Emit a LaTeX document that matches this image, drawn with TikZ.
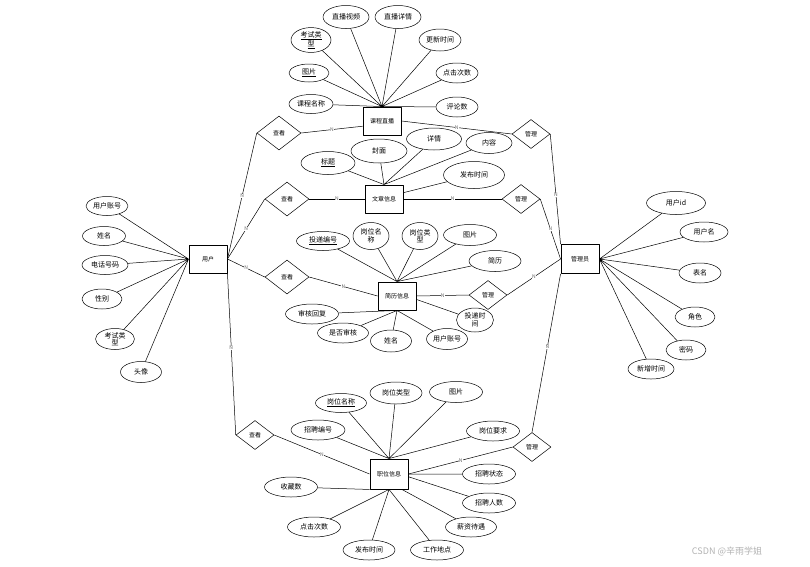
\documentclass[tikz,border=0pt]{standalone}
\usepackage{fontspec}
\setmainfont{Noto Sans CJK SC}
\usetikzlibrary{shapes.geometric}

\begin{document}
\begin{tikzpicture}[x=1pt,y=-1pt,line join=round,line width=0.5pt,
    attr/.style={draw,ellipse,inner sep=0pt,minimum width=46,minimum height=20,font=\fontsize{7}{7}\selectfont},
    attrtwo/.style={attr,align=center,minimum width=38,minimum height=22,font=\fontsize{7}{7.5}\selectfont},
    ent/.style={draw,line width=0.9pt,minimum width=38,minimum height=28,inner sep=0pt,font=\fontsize{6}{6}\selectfont},
    rel/.style={draw,diamond,inner sep=0pt,minimum width=44,minimum height=34,font=\fontsize{6}{6}\selectfont},
    relsm/.style={rel,minimum width=38,minimum height=29},
    nlab/.style={fill=white,inner sep=0.2pt,text=black!60,font=\fontsize{5}{5}\selectfont}]
  \useasboundingbox (0,0) rectangle (810,566);

  \node[ent] (kczb) at (382,121) {课程直播};
  \node[ent] (wzxx) at (384,199) {文章信息};
  \node[ent] (jlxx) at (397,296) {简历信息};
  \node[ent,minimum height=30] (zwxx) at (389,474) {职位信息};
  \node[ent] (yh) at (208,259) {用户};
  \node[ent,minimum height=29] (gly) at (580,259) {管理员};

  \node[rel] (ck1) at (279,133) {查看};
  \node[rel] (ck2) at (287,199) {查看};
  \node[rel] (ck3) at (287,277) {查看};
  \node[relsm] (ck4) at (255,435) {查看};
  \node[relsm] (gl1) at (531,134) {管理};
  \node[relsm] (gl2) at (521,199) {管理};
  \node[relsm] (gl3) at (488,295) {管理};
  \node[relsm] (gl4) at (532,447) {管理};

  % 课程直播
  \node[attr,minimum height=23] (kzbsp) at (346,17) {直播视频};
  \node[attr,minimum height=23] (kzbxq) at (398,17) {直播详情};
  \node[attrtwo,minimum width=40,minimum height=21] (kkslx) at (311,40) {\underline{考试类}\\\underline{型}};
  \node[attr,minimum width=42,minimum height=22] (kgxsj) at (440,40) {更新时间};
  \node[attr,minimum width=40,minimum height=18] (ktp) at (309,73) {\underline{图片}};
  \node[attr,minimum width=42] (kdjcs) at (457,73) {点击次数};
  \node[attr,minimum width=44,minimum height=19] (kkcmc) at (311,104) {课程名称};
  \node[attr,minimum width=42] (kpls) at (457,107) {评论数};

  % 文章信息
  \node[attr,minimum width=54,minimum height=23] (wbt) at (328,163) {\underline{标题}};
  \node[attr,minimum width=56,minimum height=24] (wfm) at (379,151) {封面};
  \node[attr,minimum width=55,minimum height=22] (wxq) at (434,139) {详情};
  \node[attr,minimum width=46,minimum height=21] (wnr) at (489,143) {内容};
  \node[attr,minimum width=61,minimum height=27] (wfbsj) at (474,175) {发布时间};

  % 用户
  \node[attr,minimum width=42,minimum height=19] (yzh) at (107,206) {用户账号};
  \node[attr,minimum width=43,minimum height=19] (yxm) at (104,236) {姓名};
  \node[attr,minimum width=46,minimum height=19] (ydh) at (105,265) {电话号码};
  \node[attr,minimum width=40,minimum height=20] (yxb) at (102,299) {性别};
  \node[attrtwo,minimum width=39,minimum height=21] (ykslx) at (115,339) {考试类\\型};
  \node[attr,minimum width=41,minimum height=21] (ytx) at (141,372) {头像};

  % 简历信息
  \node[attr,minimum width=53,minimum height=19] (jtdbh) at (323,241) {\underline{投递编号}};
  \node[attrtwo,minimum width=36,minimum height=27] (jgwmc) at (371,236) {岗位名\\称};
  \node[attrtwo,minimum width=36,minimum height=27] (jgwlx) at (420,236) {岗位类\\型};
  \node[attr,minimum width=53,minimum height=21] (jtp) at (470,235) {图片};
  \node[attr,minimum width=52,minimum height=21] (jjl) at (495,261) {简历};
  \node[attrtwo,minimum width=37,minimum height=24] (jtdsj) at (475,320) {投递时\\间};
  \node[attr,minimum width=41,minimum height=21] (jyhzh) at (447,339) {用户账号};
  \node[attr,minimum width=41,minimum height=22] (jxm) at (391,341) {姓名};
  \node[attr,minimum width=51] (jsfsh) at (343,333) {是否审核};
  \node[attr,minimum width=53] (jshhf) at (312,314) {审核回复};

  % 职位信息
  \node[attr,minimum width=51,minimum height=19] (zgwmc) at (341,403) {\underline{岗位名称}};
  \node[attr,minimum width=52,minimum height=22] (zgwlx) at (396,393) {岗位类型};
  \node[attr,minimum width=53,minimum height=21] (ztp) at (456,392) {图片};
  \node[attr,minimum width=53] (zgwyq) at (493,431) {岗位要求};
  \node[attr,minimum width=54] (zzpbh) at (318,430) {招聘编号};
  \node[attr,minimum width=53] (zzpzt) at (489,474) {招聘状态};
  \node[attr,minimum width=53] (zzprs) at (489,503) {招聘人数};
  \node[attr,minimum width=51] (zxzdy) at (471,527) {薪资待遇};
  \node[attr,minimum width=53] (zgzdd) at (437,550) {工作地点};
  \node[attr,minimum width=52] (zfbsj) at (369,550) {发布时间};
  \node[attr,minimum width=53] (zdjcs) at (314,527) {点击次数};
  \node[attr,minimum width=53] (zscs) at (291,487) {收藏数};

  % 管理员
  \node[attr,minimum width=59,minimum height=23] (gyhid) at (676,203) {用户id};
  \node[attr,minimum width=48] (gyhm) at (704,232) {用户名};
  \node[attr,minimum width=42] (gbm) at (700,273) {表名};
  \node[attr,minimum width=40] (gjs) at (695,317) {角色};
  \node[attr,minimum width=40] (gmm) at (686,350) {密码};
  \node[attr,minimum width=46] (gxzsj) at (651,369) {新增时间};

  \draw (kczb.north) -- (kzbsp) (kczb.north) -- (kzbxq) (kczb.north) -- (kkslx)
    (kczb.north) -- (kgxsj) (kczb.north) -- (ktp) (kczb.north) -- (kdjcs)
    (kczb.north) -- (kkcmc) (kczb.north) -- (kpls);
  \draw (wzxx.north) -- (wbt) (wzxx.north) -- (wfm) (wzxx.north) -- (wxq)
    (wzxx.north) -- (wnr) (wzxx.18) -- (wfbsj);
  \draw (yh.west) -- (yzh) (yh.west) -- (yxm) (yh.west) -- (ydh)
    (yh.west) -- (yxb) (yh.west) -- (ykslx) (yh.west) -- (ytx);
  \draw (jlxx.north) -- (jtdbh) (jlxx.north) -- (jgwmc) (jlxx.north) -- (jgwlx)
    (jlxx.north) -- (jtp) (jlxx.north) -- (jjl) (jlxx.-10) -- (jtdsj)
    (jlxx.south) -- (jyhzh) (jlxx.south) -- (jxm) (jlxx.south) -- (jsfsh)
    (jlxx.south) -- (jshhf);
  \draw (zwxx.north) -- (zgwmc) (zwxx.north) -- (zgwlx) (zwxx.north) -- (ztp)
    (zwxx.north) -- (zgwyq) (zwxx.north) -- (zzpbh) (zwxx.east) -- (zzpzt)
    (zwxx.-8) -- (zzprs) (zwxx.-50) -- (zxzdy) (zwxx.south) -- (zgzdd)
    (zwxx.south) -- (zfbsj) (zwxx.south) -- (zdjcs) (zwxx.south west) -- (zscs);
  \draw (gly.east) -- (gyhid) (gly.east) -- (gyhm) (gly.east) -- (gbm)
    (gly.east) -- (gjs) (gly.east) -- (gmm) (gly.east) -- (gxzsj);

  \draw (yh.east) -- node[nlab]{N} (ck1.west);
  \draw (yh.east) -- node[nlab]{N} (ck2.west);
  \draw (yh.east) -- node[nlab]{N} (ck3.west);
  \draw (yh.south east) -- node[nlab,pos=0.46]{N} (ck4.west);
  \draw (ck1.east) -- node[nlab]{N} (kczb.-165);
  \draw (ck2.east) -- node[nlab]{N} (wzxx.west);
  \draw (ck3.east) -- node[nlab]{N} (jlxx.west);
  \draw (ck4.east) -- node[nlab]{N} (zwxx.west);
  \draw (kczb.east) -- node[nlab]{N} (gl1.west);
  \draw (wzxx.east) -- node[nlab]{N} (gl2.west);
  \draw (jlxx.east) -- node[nlab]{N} (gl3.west);
  \draw (zwxx.east) -- node[nlab]{N} (gl4.west);
  \draw (gl1.east) -- node[nlab,pos=0.55]{N} (gly.north west);
  \draw (gl2.east) -- node[nlab]{N} (gly.west);
  \draw (gl3.east) -- node[nlab]{N} (gly.west);
  \draw (gl4.north) -- node[nlab,pos=0.54]{N} (gly.south west);

  \node[text=black!30,font=\fontsize{9}{9}\selectfont] (csdn) at (727,551) {CSDN @辛雨学姐};
\end{tikzpicture}
\end{document}
